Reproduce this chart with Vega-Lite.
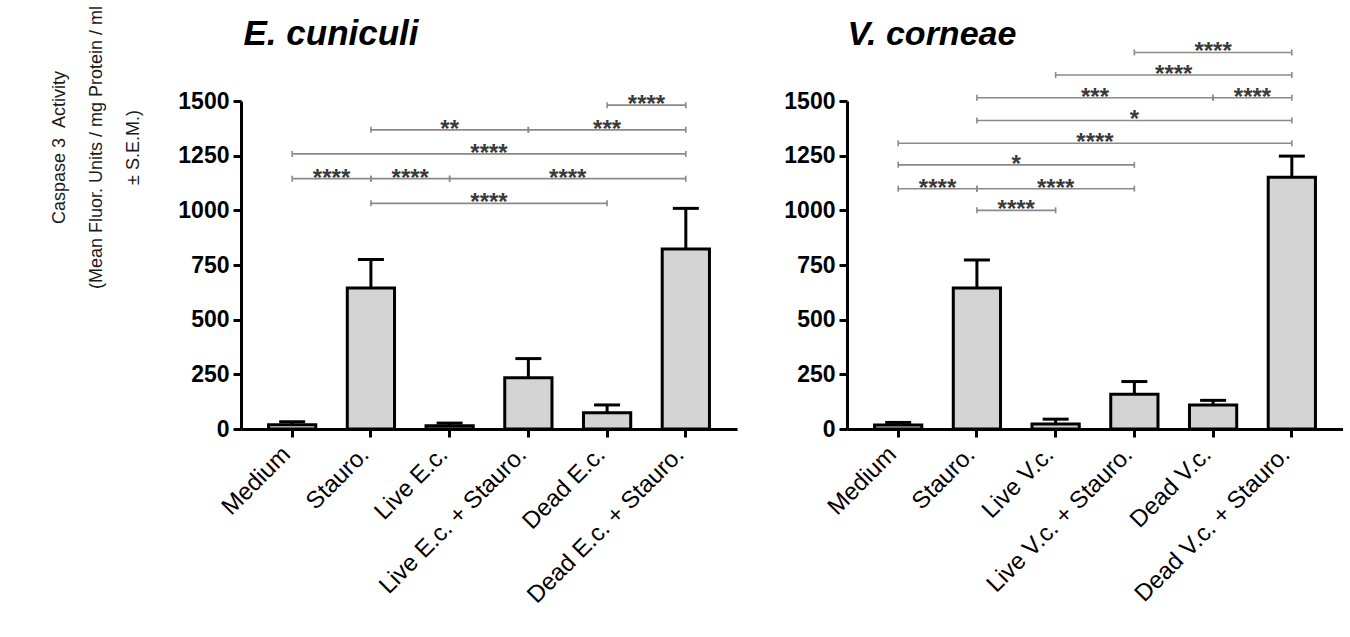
{
  "$schema": "https://vega.github.io/schema/vega-lite/v6.json",
  "padding": {"left": 50, "top": 5, "right": 0, "bottom": 0},
  "background": "white",
  "config": {
    "view": {"stroke": null},
    "font": "Liberation Sans",
    "axis": {"grid": false, "domainColor": "black", "domainWidth": 3, "tickColor": "black", "tickWidth": 3, "tickSize": 8, "labelColor": "black", "labelFont": "Liberation Sans", "titleFont": "Liberation Sans", "labelLimit": 500}
  },
  "datasets": {
    "ec": [
      {"group": "Medium", "mean": 20, "hi": 33},
      {"group": "Stauro.", "mean": 645, "hi": 775},
      {"group": "Live E.c.", "mean": 15, "hi": 27},
      {"group": "Live E.c. + Stauro.", "mean": 234, "hi": 322},
      {"group": "Dead E.c.", "mean": 74, "hi": 110},
      {"group": "Dead E.c. + Stauro.", "mean": 823, "hi": 1009}
    ],
    "vc": [
      {"group": "Medium", "mean": 18, "hi": 30},
      {"group": "Stauro.", "mean": 645, "hi": 773},
      {"group": "Live V.c.", "mean": 23, "hi": 45},
      {"group": "Live V.c. + Stauro.", "mean": 159, "hi": 217},
      {"group": "Dead V.c.", "mean": 110, "hi": 131},
      {"group": "Dead V.c. + Stauro.", "mean": 1151, "hi": 1248}
    ],
    "ec_sig": [
      {"id": "Dead E.c. vs Dead E.c. + Stauro.", "from": 4, "to": 5, "y": 1481, "stars": "****"},
      {"id": "Stauro. vs Live E.c. + Stauro.", "from": 1, "to": 3, "y": 1368, "stars": "**"},
      {"id": "Live E.c. + Stauro. vs Dead E.c. + Stauro.", "from": 3, "to": 5, "y": 1368, "stars": "***"},
      {"id": "Medium vs Dead E.c. + Stauro.", "from": 0, "to": 5, "y": 1258, "stars": "****"},
      {"id": "Medium vs Stauro.", "from": 0, "to": 1, "y": 1145, "stars": "****"},
      {"id": "Stauro. vs Live E.c.", "from": 1, "to": 2, "y": 1145, "stars": "****"},
      {"id": "Live E.c. vs Dead E.c. + Stauro.", "from": 2, "to": 5, "y": 1145, "stars": "****"},
      {"id": "Stauro. vs Dead E.c.", "from": 1, "to": 4, "y": 1032, "stars": "****"}
    ],
    "vc_sig": [
      {"id": "Live V.c. + Stauro. vs Dead V.c. + Stauro.", "from": 3, "to": 5, "y": 1722, "stars": "****"},
      {"id": "Live V.c. vs Dead V.c. + Stauro.", "from": 2, "to": 5, "y": 1619, "stars": "****"},
      {"id": "Stauro. vs Dead V.c.", "from": 1, "to": 4, "y": 1515, "stars": "***"},
      {"id": "Dead V.c. vs Dead V.c. + Stauro.", "from": 4, "to": 5, "y": 1515, "stars": "****"},
      {"id": "Stauro. vs Dead V.c. + Stauro.", "from": 1, "to": 5, "y": 1411, "stars": "*"},
      {"id": "Medium vs Dead V.c. + Stauro.", "from": 0, "to": 5, "y": 1307, "stars": "****"},
      {"id": "Medium vs Live V.c. + Stauro.", "from": 0, "to": 3, "y": 1208, "stars": "*"},
      {"id": "Medium vs Stauro.", "from": 0, "to": 1, "y": 1099, "stars": "****"},
      {"id": "Stauro. vs Live V.c. + Stauro.", "from": 1, "to": 3, "y": 1099, "stars": "****"},
      {"id": "Stauro. vs Live V.c.", "from": 1, "to": 2, "y": 1000, "stars": "****"}
    ]
  },
  "bounds": "flush",
  "spacing": 110,
  "hconcat": [
    {
      "width": 496,
      "height": 328,
      "resolve": {"scale": {"x": "independent"}},
      "layer": [
        {
          "data": {"name": "ec"},
          "layer": [
            {
              "mark": {"type": "bar", "fill": "#d4d4d4", "stroke": "black", "strokeWidth": 3},
              "encoding": {
                "x": {"field": "group", "type": "nominal", "sort": null, "scale": {"paddingInner": 0.4, "paddingOuter": 0.35}, "axis": {"title": null, "labelAngle": -45, "labelFontSize": 24, "labelPadding": 5, "labelOffset": -14}},
                "y": {"field": "mean", "type": "quantitative", "scale": {"domain": [0, 1500], "nice": false}, "axis": {"values": [0, 250, 500, 750, 1000, 1250, 1500], "format": "d", "labelFontSize": 23, "labelFontWeight": "bold", "labelPadding": 4, "title": ["Caspase 3\u00a0\u00a0Activity", "(Mean Fluor. Units / mg Protein / ml", "± S.E.M.)"], "titleFontSize": 18, "titleFontWeight": "normal", "titleColor": "#1a1a1a", "titleLineHeight": 37, "titlePadding": 35, "titleY": 46}}
              }
            },
            {
              "mark": {"type": "rule", "stroke": "black", "strokeWidth": 3},
              "encoding": {
                "x": {"field": "group", "type": "nominal", "sort": null},
                "y": {"field": "mean", "type": "quantitative"},
                "y2": {"field": "hi"}
              }
            },
            {
              "mark": {"type": "tick", "color": "black", "thickness": 3, "size": 26, "opacity": 1},
              "encoding": {
                "x": {"field": "group", "type": "nominal", "sort": null},
                "y": {"field": "hi", "type": "quantitative"}
              }
            }
          ]
        },
        {
          "data": {"name": "ec_sig"},
          "layer": [
            {
              "mark": {"type": "rule", "stroke": "#8a8a8a", "strokeWidth": 1.6},
              "encoding": {
                "x": {"field": "from", "type": "quantitative", "scale": {"domain": [-0.65, 5.65], "nice": false, "zero": false}, "axis": {"orient": "top", "title": "E. cuniculi", "labels": false, "ticks": false, "domain": false, "titleFontSize": 35, "titleFontStyle": "italic", "titleFontWeight": "bold", "titleColor": "black", "titleAnchor": "start", "titleAlign": "left", "titleX": 2, "titlePadding": 50}},
                "x2": {"field": "to"},
                "y": {"field": "y", "type": "quantitative"}
              }
            },
            {
              "transform": [{"fold": ["from", "to"], "as": ["end", "pos"]}],
              "mark": {"type": "point", "shape": "M0,-1L0,1", "size": 36, "stroke": "#8a8a8a", "strokeWidth": 1.6, "filled": false, "opacity": 1},
              "encoding": {
                "x": {"field": "pos", "type": "quantitative", "title": "E. cuniculi"},
                "y": {"field": "y", "type": "quantitative"}
              }
            },
            {
              "transform": [{"fold": ["from", "to"], "as": ["end", "pos"]}],
              "mark": {"type": "text", "fontSize": 24, "fontWeight": "bold", "color": "#3a3a3a", "baseline": "alphabetic", "dy": 7},
              "encoding": {
                "x": {"aggregate": "mean", "field": "pos", "type": "quantitative", "title": "E. cuniculi"},
                "y": {"field": "y", "type": "quantitative"},
                "text": {"field": "stars"},
                "detail": {"field": "id"}
              }
            }
          ]
        }
      ]
    },
    {
      "width": 496,
      "height": 328,
      "resolve": {"scale": {"x": "independent"}},
      "layer": [
        {
          "data": {"name": "vc"},
          "layer": [
            {
              "mark": {"type": "bar", "fill": "#d4d4d4", "stroke": "black", "strokeWidth": 3},
              "encoding": {
                "x": {"field": "group", "type": "nominal", "sort": null, "scale": {"paddingInner": 0.4, "paddingOuter": 0.35}, "axis": {"title": null, "labelAngle": -45, "labelFontSize": 24, "labelPadding": 5, "labelOffset": -14}},
                "y": {"field": "mean", "type": "quantitative", "scale": {"domain": [0, 1500], "nice": false}, "axis": {"values": [0, 250, 500, 750, 1000, 1250, 1500], "format": "d", "labelFontSize": 23, "labelFontWeight": "bold", "labelPadding": 4, "title": null}}
              }
            },
            {
              "mark": {"type": "rule", "stroke": "black", "strokeWidth": 3},
              "encoding": {
                "x": {"field": "group", "type": "nominal", "sort": null},
                "y": {"field": "mean", "type": "quantitative"},
                "y2": {"field": "hi"}
              }
            },
            {
              "mark": {"type": "tick", "color": "black", "thickness": 3, "size": 26, "opacity": 1},
              "encoding": {
                "x": {"field": "group", "type": "nominal", "sort": null},
                "y": {"field": "hi", "type": "quantitative"}
              }
            }
          ]
        },
        {
          "data": {"name": "vc_sig"},
          "layer": [
            {
              "mark": {"type": "rule", "stroke": "#8a8a8a", "strokeWidth": 1.6},
              "encoding": {
                "x": {"field": "from", "type": "quantitative", "scale": {"domain": [-0.65, 5.65], "nice": false, "zero": false}, "axis": {"orient": "top", "title": "V. corneae", "labels": false, "ticks": false, "domain": false, "titleFontSize": 34, "titleFontStyle": "italic", "titleFontWeight": "bold", "titleColor": "black", "titleAnchor": "start", "titleAlign": "left", "titleX": 0, "titlePadding": 50}},
                "x2": {"field": "to"},
                "y": {"field": "y", "type": "quantitative"}
              }
            },
            {
              "transform": [{"fold": ["from", "to"], "as": ["end", "pos"]}],
              "mark": {"type": "point", "shape": "M0,-1L0,1", "size": 36, "stroke": "#8a8a8a", "strokeWidth": 1.6, "filled": false, "opacity": 1},
              "encoding": {
                "x": {"field": "pos", "type": "quantitative", "title": "V. corneae"},
                "y": {"field": "y", "type": "quantitative"}
              }
            },
            {
              "transform": [{"fold": ["from", "to"], "as": ["end", "pos"]}],
              "mark": {"type": "text", "fontSize": 24, "fontWeight": "bold", "color": "#3a3a3a", "baseline": "alphabetic", "dy": 7},
              "encoding": {
                "x": {"aggregate": "mean", "field": "pos", "type": "quantitative", "title": "V. corneae"},
                "y": {"field": "y", "type": "quantitative"},
                "text": {"field": "stars"},
                "detail": {"field": "id"}
              }
            }
          ]
        }
      ]
    }
  ]
}
